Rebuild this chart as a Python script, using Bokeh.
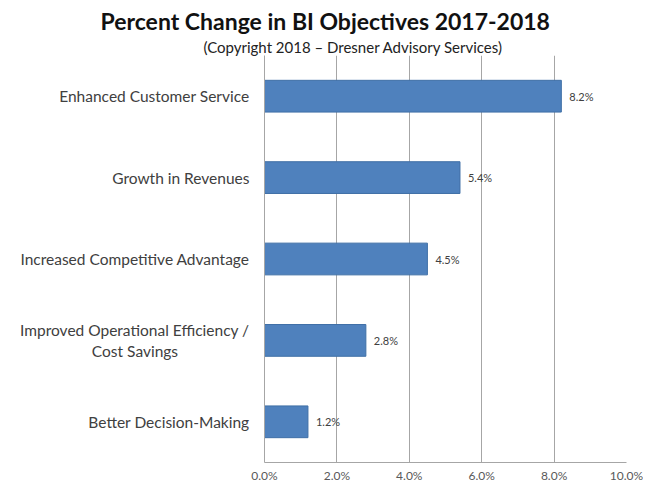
from bokeh.plotting import figure
from bokeh.models import (FactorRange, Range1d, FixedTicker, PrintfTickFormatter,
                          ColumnDataSource, LabelSet, Title, CustomJSTickFormatter)
from bokeh.core.properties import value
from bokeh.embed import file_html
from bokeh.resources import INLINE

categories = ["Enhanced Customer Service", "Growth in Revenues",
              "Increased Competitive Advantage",
              "Improved Operational Efficiency /\nCost Savings",
              "Better Decision-Making"]
values = [8.2, 5.4, 4.5, 2.8, 1.2]
value_labels = ["8.2%", "5.4%", "4.5%", "2.8%", "1.2%"]
x_ticks = [0, 2, 4, 6, 8, 10]

FONT = "Lato"
BAR = "#4f81bd"
GRID = "#a6a6a6"
TEXT = "#404040"
CAT_SIZE = 15.5

factors = list(reversed(categories))
p = figure(width=643, height=485, output_backend="svg", toolbar_location=None,
           y_range=FactorRange(factors=factors, range_padding=0),
           x_range=Range1d(0, 10),
           min_border_left=264, min_border_right=17, min_border_top=55,
           min_border_bottom=0)
p.outline_line_color = None
p.background_fill_color = "white"

src = ColumnDataSource(dict(cat=categories, val=values, vlab=value_labels))

p.hbar(y="cat", right="val", left=0, height=0.39, source=src,
       fill_color=BAR, line_color="#3f6fa6", line_width=1)

p.add_layout(LabelSet(x="val", y="cat", text="vlab", source=src, x_offset=8,
                      text_baseline="middle", text_font=value(FONT),
                      text_font_size="11px", text_color=TEXT))

p.xaxis.ticker = FixedTicker(ticks=x_ticks)
p.xaxis.formatter = PrintfTickFormatter(format="%.1f%%")
p.xaxis.axis_line_color = GRID
p.xaxis.major_tick_line_color = None
p.xaxis.minor_tick_line_color = None
p.xaxis.major_tick_out = 0
p.xaxis.major_tick_in = 0
p.xaxis.major_label_text_font = FONT
p.xaxis.major_label_text_font_size = "12px"
p.xaxis.major_label_text_color = "#595959"
p.xaxis.major_label_standoff = 5

# centre the lines of a two-line category label, as in the original
p.yaxis.formatter = CustomJSTickFormatter(code="""
    if (typeof tick !== 'string' || tick.indexOf('\\n') < 0) { return tick; }
    const parts = tick.split('\\n');
    const ctx = document.createElement('canvas').getContext('2d');
    ctx.font = '%gpx Lato';
    const wide = Math.max(...parts.map(s => ctx.measureText(s).width));
    const sp = ctx.measureText('\\u00a0').width;
    return parts.map(s => {
        const n = Math.max(0, Math.round((wide - ctx.measureText(s).width) / 2 / sp));
        return s + '\\u00a0'.repeat(n);
    }).join('\\n');
""" % CAT_SIZE)
p.yaxis.axis_line_color = GRID
p.yaxis.major_tick_line_color = None
p.yaxis.minor_tick_line_color = None
p.yaxis.major_tick_out = 0
p.yaxis.major_tick_in = 0
p.yaxis.major_label_text_font = FONT
p.yaxis.major_label_text_font_size = "%gpx" % CAT_SIZE
p.yaxis.major_label_text_color = TEXT
p.yaxis.major_label_standoff = 15

p.xgrid.grid_line_color = GRID
p.xgrid.ticker = FixedTicker(ticks=x_ticks)
p.ygrid.grid_line_color = None

p.title.text = "Percent Change in BI Objectives 2017-2018"
p.title.align = "left"
p.title.offset = -164
p.title.text_font = FONT
p.title.text_font_size = "23px"
p.title.text_font_style = "bold"
p.title.text_color = "#111111"
p.title.standoff = 0
p.title.vertical_align = "middle"

sub = Title(text="(Copyright 2018 \u2013 Dresner Advisory Services)", align="left",
            offset=-61, text_font=FONT, text_font_size="15px",
            text_font_style="normal", text_color="#222222", standoff=0)
p.add_layout(sub, "above")

open("out.html", "w").write(file_html(p, INLINE))
